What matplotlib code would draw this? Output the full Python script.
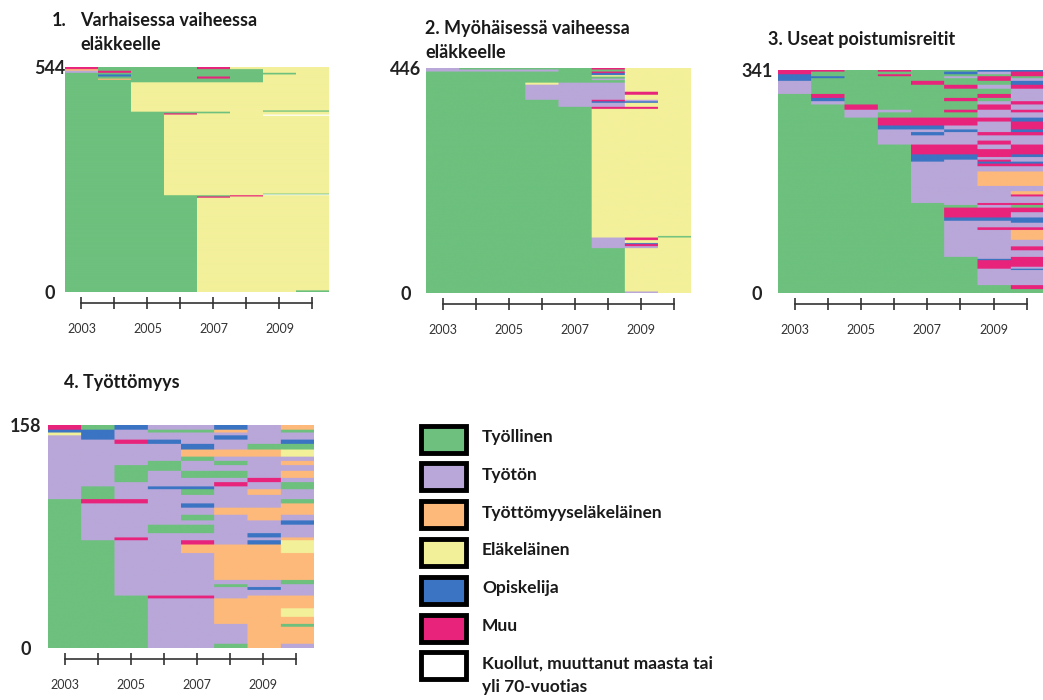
import numpy as np
import matplotlib
matplotlib.use('Agg')
import matplotlib.pyplot as plt
from matplotlib.colors import to_rgb
from matplotlib.patches import Rectangle

plt.rcParams['font.family'] = ['Lato', 'DejaVu Sans']

years = [2003, 2004, 2005, 2006, 2007, 2008, 2009, 2010]
year_labels = ['2003', '', '2005', '', '2007', '', '2009', '']

# state codes: G työllinen, T työtön, O työttömyyseläke, E eläke, S opiskelija, M muu, K kuollut
state_codes = 'GTOESMK'
state_names = ['Työllinen', 'Työtön', 'Työttömyyseläkeläinen', 'Eläkeläinen',
               'Opiskelija', 'Muu', 'Kuollut, muuttanut maasta tai\nyli 70-vuotias']
state_colors = ['#6dc07d', '#b9a7d9', '#fdb97a', '#f3f09a', '#3a74c2', '#e8237b', '#ffffff']

# sequence groups, bottom to top: (number of persons, state per year 2003-2010)
p1_groups = [(4, 'GGGGEEEG'), (224, 'GGGGEEEE'), (3, 'GGGGMEEE'), (3, 'GGGGGMEE'),
             (2, 'GGGEEEKK'), (2, 'GGGEEEGG'), (188, 'GGGEEEEE'), (3, 'GGGEEEKK'),
             (3, 'GGGMEEEE'), (4, 'GGGGGEEE'), (3, 'GGEEEEGG'), (68, 'GGEEEEEE'),
             (6, 'GGGGGGEE'), (3, 'GOGGGGEE'), (5, 'GGGGMGEE'), (5, 'GSGGGGEE'),
             (4, 'GGGGGGGE'), (5, 'TMGGGGEE'), (4, 'OGGGGGEE'), (5, 'MGGGMEEE')]

p2_groups = [(3, 'GGGGGGTE'), (86, 'GGGGGGEE'), (4, 'GGGGGTTE'), (4, 'GGGGGTME'),
             (2, 'GGGGGTSE'), (6, 'GGGGGTEE'), (5, 'GGGGGTME'), (3, 'GGGGGEEG'),
             (252, 'GGGGGEEE'), (4, 'GGGGGMME'), (8, 'GGGGTTEE'), (3, 'GGGGTSSE'),
             (3, 'GGGGTMTE'), (10, 'GGGTTTEE'), (6, 'GGGTTTME'), (14, 'GGGTTTEE'),
             (4, 'GGGETTEE'), (5, 'GGGGGGEE'), (3, 'GGGGGTEE'), (4, 'GGGGGGEE'),
             (3, 'GGGGGEEE'), (4, 'GGGGGSEE'), (3, 'GGGGGMEE'), (4, 'TTTTGGEE'),
             (3, 'TGGGGMEE')]

p3_groups = [(6, 'GGGGGGGG'), (6, 'GGGGGGGM'),
             (23, 'GGGGGGTT'), (2, 'GGGGGGTS'), (3, 'GGGGGGMT'), (10, 'GGGGGGMM'),
             (2, 'GGGGGGSM'), (3, 'GGGGGGTM'),
             (10, 'GGGGGTTT'), (6, 'GGGGGTTM'), (10, 'GGGGGTTT'), (15, 'GGGGGTTO'),
             (4, 'GGGGGTMM'), (7, 'GGGGGTTT'), (3, 'GGGGGTTS'), (5, 'GGGGGSSS'),
             (8, 'GGGGGMMT'), (7, 'GGGGGMMM'), (4, 'GGGGGGTG'), (3, 'GGGGGTMM'),
             (10, 'GGGGTTTT'), (3, 'GGGGTTTM'), (5, 'GGGGTTTO'), (8, 'GGGGTTTT'),
             (22, 'GGGGTTOO'), (8, 'GGGGTTTT'), (4, 'GGGGTTMM'), (3, 'GGGGTTSS'),
             (3, 'GGGGSTMT'), (4, 'GGGGSSTT'), (4, 'GGGGSSMS'), (8, 'GGGGMMMM'),
             (7, 'GGGGMMTM'),
             (6, 'GGGTTTMT'), (8, 'GGGTTTTT'), (5, 'GGGTSTMM'), (4, 'GGGTTSTS'),
             (6, 'GGGSSTTM'), (6, 'GGGMMMTM'), (6, 'GGGMMMMS'),
             (8, 'GGTGGGTT'), (4, 'GGTTGMTM'), (8, 'GGMGGGMT'),
             (5, 'GTGGGGTM'), (5, 'GSGGGMGT'), (6, 'GMGGGGMT'),
             (8, 'TGGGGGGT'), (6, 'TGGGGMTM'), (6, 'TGGGMGGS'), (4, 'SGGGGGMT'),
             (3, 'SSGGGTMG'), (3, 'SGGMGGGM'), (4, 'MGGGGSTM'), (4, 'MMGMGGSS')]

p4_groups = [(3, 'GGGTTGOT'), (12, 'GGGTTTOO'), (2, 'GGGTTTOG'), (5, 'GGGTTOOO'),
             (6, 'GGGTTOOE'), (7, 'GGGTTOOO'), (2, 'GGGMMTOO'),
             (4, 'GGTTTTTT'), (2, 'GGTTTTST'), (2, 'GGTTTGTT'), (3, 'GGTTTTTG'),
             (19, 'GGTTTOOO'), (6, 'GGTTOOOE'), (3, 'GGTTMTSE'),
             (2, 'GTMTTTTO'), (3, 'GTTTTTST'), (6, 'GTTGGTTT'), (3, 'GTTTTTTS'),
             (4, 'GTTTGTOT'), (5, 'GTTTTOOO'), (3, 'GTTTSTTO'), (3, 'GMMTTTTG'),
             (3, 'TGTTTTTT'), (4, 'TGTTGTOT'), (2, 'TGTSSTTG'), (3, 'TTTTTMTG'),
             (3, 'TTGTTTMT'), (5, 'TTGTGGTO'), (4, 'TTGGTTTT'), (3, 'TTTGTGTO'),
             (3, 'TTTTGTTT'), (5, 'TTTTOOOE'), (4, 'TTTTSTGG'), (3, 'TTMSTTTS'),
             (3, 'TSTTTSTT'),
             (2, 'ESTTTTTT'), (2, 'SSTGGOTG'), (4, 'MGSTTSTO')]

panel_titles = ['Varhaisessa vaiheessa\neläkkeelle', '2. Myöhäisessä vaiheessa\neläkkeelle',
                '3. Useat poistumisreitit', '4. Työttömyys']


def build_rgb(groups):
    palette = np.array([to_rgb(c) for c in state_colors])
    rows = []
    for n, seq in groups:
        codes = [state_codes.index(c) for c in seq]
        rows += [codes] * n
    img = palette[np.array(rows)]
    # widen each year column so the resampling only smooths vertically
    return np.repeat(img, 33, axis=1)


fig = plt.figure(figsize=(10.43, 7.0), dpi=100)


def draw_panel(rect, groups, ypad):
    ax = fig.add_axes(rect)
    img = build_rgb(groups)
    n = img.shape[0]
    ax.imshow(img, aspect='auto', origin='lower', extent=(2002.5, 2010.5, 0, n),
              interpolation='antialiased')
    ax.set_xlim(2002.5, 2010.5)
    ax.set_ylim(0, n)
    for s in ['top', 'right', 'left']:
        ax.spines[s].set_visible(False)
    ax.spines['bottom'].set_position(('outward', 8))
    ax.spines['bottom'].set_bounds(2003, 2010)
    ax.spines['bottom'].set_color('#333333')
    ax.spines['bottom'].set_linewidth(1.2)
    ax.set_xticks(years)
    ax.set_xticklabels(year_labels)
    ax.tick_params(axis='x', direction='inout', length=8, width=1.2, color='#333333',
                   pad=10, labelsize=9, labelcolor='#333333')
    ax.set_yticks([0, n])
    ax.set_yticklabels(['0', str(n)], fontsize=13, fontweight='bold', color='#222222')
    ax.tick_params(axis='y', length=0, pad=ypad)
    for lab in ax.get_yticklabels():
        lab.set_horizontalalignment('center')
    return ax


draw_panel([0.0623, 0.5829, 0.2531, 0.3214], p1_groups, 11)
draw_panel([0.4089, 0.5814, 0.2536, 0.3214], p2_groups, 15)
draw_panel([0.7459, 0.5814, 0.2545, 0.3186], p3_groups, 15)
draw_panel([0.0460, 0.0743, 0.2541, 0.3186], p4_groups, 16)

# overlay in pixel coordinates for titles and legend
ov = fig.add_axes([0, 0, 1, 1], zorder=-1)
ov.set_xlim(0, 1043)
ov.set_ylim(700, 0)
ov.axis('off')

tkw = dict(fontsize=13, fontweight='bold', color='#1a1a1a', va='top', ha='left',
           linespacing=1.5)
ov.text(52, 12, '1.', **tkw)
ov.text(80, 12, panel_titles[0], **tkw)
ov.text(425, 20, panel_titles[1], **tkw)
ov.text(768, 31, panel_titles[2], **tkw)
ov.text(64, 374, panel_titles[3], **tkw)

for i, (name, col) in enumerate(zip(state_names, state_colors)):
    y = 439 + i * 37.8
    ov.add_patch(Rectangle((421, y - 13.5), 45, 27, facecolor=col, edgecolor='black',
                           linewidth=3.5))
    ov.text(482, y - 10, name, fontsize=12.5, fontweight='bold', color='#1a1a1a',
            va='top', ha='left', linespacing=1.55)

fig.savefig('out.png', dpi=100)
